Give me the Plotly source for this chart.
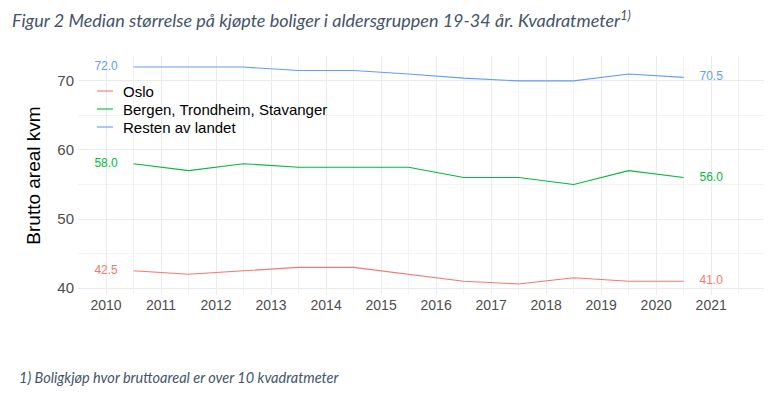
import plotly.graph_objects as go

years = [2010.5, 2011.5, 2012.5, 2013.5, 2014.5, 2015.5, 2016.5, 2017.5, 2018.5, 2019.5, 2020.5]
oslo = [42.5, 42.0, 42.5, 43.0, 43.0, 42.0, 41.0, 40.6, 41.5, 41.0, 41.0]
bts = [58.0, 57.0, 58.0, 57.5, 57.5, 57.5, 56.0, 56.0, 55.0, 57.0, 56.0]
resten = [72.0, 72.0, 72.0, 71.5, 71.5, 71.0, 70.4, 70.0, 70.0, 71.0, 70.5]
series_names = ["Oslo", "Bergen, Trondheim, Stavanger", "Resten av landet"]
colors = ["#F8766D", "#00BA38", "#619CFF"]
tick_years = list(range(2010, 2022))
label_left_x = 2010
label_right_x = 2021

title_text = "Figur 2 Median størrelse på kjøpte boliger i aldersgruppen 19-34 år. Kvadratmeter<sup>1)</sup>"
footnote_text = "1) Boligkjøp hvor bruttoareal er over 10 kvadratmeter"
y_title = "Brutto areal kvm"

# page has an 8px body margin; figure sized to fit the 782x395 window
OFF = 8
W, H = 782 - 2 * OFF, 395 - 2 * OFF
PLOT_L, PLOT_R, PLOT_T, PLOT_B = 78, 764, 56, 295  # target screen coords
L = PLOT_L - OFF
T = PLOT_T - OFF
PW = PLOT_R - PLOT_L
PH = PLOT_B - PLOT_T
R = W - L - PW
B = H - T - PH


def px_x(sx):
    return (sx - PLOT_L) / PW


def px_y(sy):
    return (PLOT_B - sy) / PH


fig = go.Figure()
for name, vals, col in zip(series_names, [oslo, bts, resten], colors):
    fig.add_trace(go.Scatter(x=years, y=vals, mode="lines", name=name,
                             line=dict(color=col, width=1.1), showlegend=False))
for vals, col in zip([oslo, bts, resten], colors):
    fig.add_trace(go.Scatter(x=[label_left_x, label_right_x], y=[vals[0], vals[-1]],
                             mode="text", text=[f"{vals[0]:.1f}", f"{vals[-1]:.1f}"],
                             textfont=dict(family="Liberation Sans, Arial", size=12, color=col),
                             textposition="middle center", showlegend=False, hoverinfo="skip"))

# legend drawn manually (tight spacing as in reference)
for i, (name, col) in enumerate(zip(series_names, colors)):
    yy = 91 + 18 * i
    fig.add_shape(type="line", xref="paper", yref="paper",
                  x0=px_x(97), x1=px_x(113), y0=px_y(yy), y1=px_y(yy),
                  line=dict(color=col, width=1.1))
    fig.add_annotation(text=name, xref="paper", yref="paper", x=px_x(121), y=px_y(yy),
                       xanchor="left", yanchor="middle", showarrow=False,
                       font=dict(family="Liberation Sans, Arial", size=15, color="black"))

grid = "#EBEBEB"
fig.update_layout(
    width=W, height=H,
    margin=dict(l=L, r=R, t=T, b=B),
    paper_bgcolor="white", plot_bgcolor="white",
    font=dict(family="Liberation Sans, Arial", color="#4D4D4D"),
    title=dict(text=title_text, x=(12 - OFF) / W, xanchor="left", xref="container",
               y=1 - (21 - OFF) / H, yanchor="middle", yref="container",
               font=dict(family="Lato", size=18, color="#44546A", style="italic")),
    showlegend=False,
    xaxis=dict(range=[2009.49, 2021.96], tickmode="array", tickvals=tick_years,
               ticktext=[str(y) for y in tick_years], showgrid=True, gridcolor=grid,
               gridwidth=1.2, zeroline=False, showline=False, ticks="", automargin=False,
               tickfont=dict(size=14, color="#4D4D4D"),
               minor=dict(tick0=2009.5, dtick=1, showgrid=True, gridcolor="#F3F3F3", gridwidth=1)),
    yaxis=dict(range=[39.0, 73.6], tickvals=[40, 50, 60, 70], showgrid=True, gridcolor=grid,
               gridwidth=1.2, zeroline=False, showline=False, ticks="", automargin=False,
               tickfont=dict(size=15, color="#4D4D4D"), ticklabelstandoff=3,
               title=dict(text=y_title, font=dict(size=19, color="black"), standoff=11),
               minor=dict(tick0=45, dtick=10, showgrid=True, gridcolor="#F3F3F3", gridwidth=1)),
)
fig.add_annotation(text=footnote_text, xref="paper", yref="paper",
                   x=px_x(17), xanchor="left", y=px_y(377), yanchor="middle",
                   showarrow=False,
                   font=dict(family="Lato", size=14.5, color="#44546A", style="italic"))

fig.write_html("out.html")
